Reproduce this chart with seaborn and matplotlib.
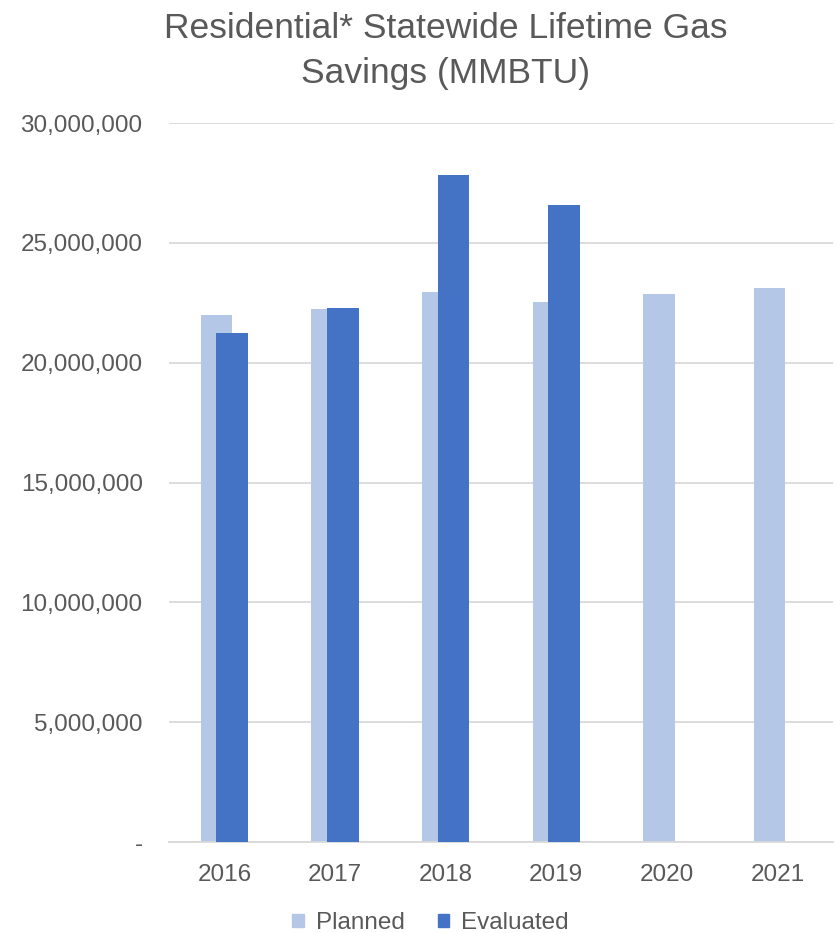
import matplotlib
matplotlib.use("Agg")
import matplotlib.pyplot as plt
import seaborn as sns
import pandas as pd
import numpy as np
from matplotlib.patches import Patch
from matplotlib.ticker import FuncFormatter

years = [2016, 2017, 2018, 2019, 2020, 2021]
planned = [22.0e6, 22.23e6, 22.97e6, 22.54e6, 22.87e6, 23.1e6]
eval_years = [2016, 2017, 2018, 2019]
evaluated = [21.25e6, 22.27e6, 27.83e6, 26.6e6]
title = "Residential* Statewide Lifetime Gas\nSavings (MMBTU)"

c_plan = "#b4c7e7"
c_eval = "#4472c4"
txt = "#595959"

sns.set_theme(style="white")
plt.rcParams['font.family'] = ['Liberation Sans', 'DejaVu Sans']

fig = plt.figure(figsize=(8.37, 9.33), dpi=100)
ax = fig.add_axes([0.202, 0.0975, 0.793, 0.7705])

off = 0.071
df_p = pd.DataFrame({"x": np.array(years) - off, "v": planned})
df_e = pd.DataFrame({"x": np.array(eval_years) + off, "v": evaluated})
sns.barplot(data=df_p, x="x", y="v", native_scale=True, width=0.285,
            color=c_plan, saturation=1, ax=ax, zorder=2)
sns.barplot(data=df_e, x="x", y="v", native_scale=True, width=0.285,
            color=c_eval, saturation=1, ax=ax, zorder=3)
for p in ax.patches:
    p.set_edgecolor("none")

ax.set_xlim(years[0] - 0.5, years[-1] + 0.5)
ax.set_ylim(0, 30e6)
ax.set_xticks(years)
ax.set_xticklabels([str(y) for y in years])
ax.set_yticks(np.arange(0, 30e6 + 1, 5e6))
ax.yaxis.set_major_formatter(FuncFormatter(lambda v, p: "-" if v == 0 else f"{int(v):,}"))
ax.set_xlabel("")
ax.set_ylabel("")
ax.grid(axis="y", color="#d9d9d9", linewidth=1.3, zorder=0)
ax.set_axisbelow(True)
for s in ["left", "right", "top"]:
    ax.spines[s].set_visible(False)
ax.spines["bottom"].set_color("#d9d9d9")
ax.spines["bottom"].set_linewidth(1.3)
ax.tick_params(axis="both", length=0, labelsize=17.5, colors=txt)
ax.tick_params(axis="y", pad=19)
ax.tick_params(axis="x", pad=15.5)

fig.text(0.532, 0.987, title, ha="center", va="top", fontsize=25.5, color=txt, linespacing=1.45)

handles = [Patch(color=c_plan, label="Planned"), Patch(color=c_eval, label="Evaluated")]
fig.legend(handles=handles, loc="center", bbox_to_anchor=(0.5144, 0.0107), ncol=2,
           frameon=False, fontsize=17.5, labelcolor=txt, handlelength=0.47, handleheight=0.47,
           columnspacing=1.36, handletextpad=0.5, borderaxespad=0, borderpad=0)

fig.savefig("out.png", dpi=100)
